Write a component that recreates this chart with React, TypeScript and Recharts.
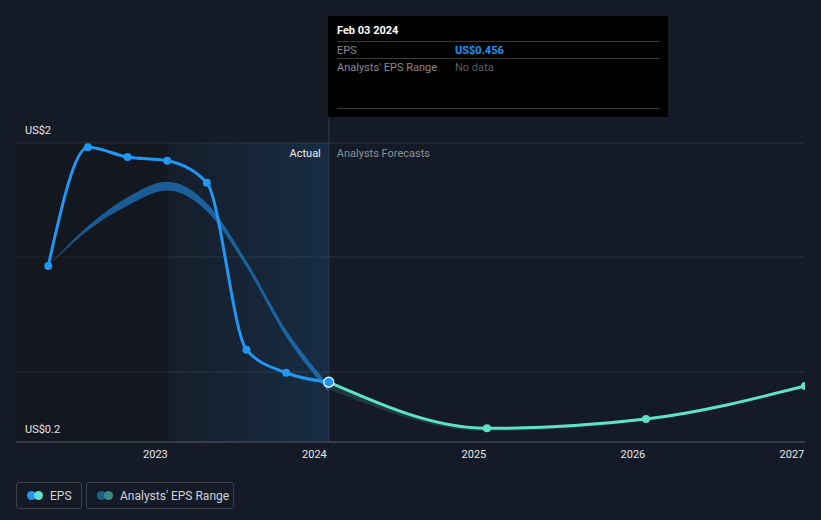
import React from 'react';
import {
  ComposedChart,
  Line,
  Area,
  XAxis,
  YAxis,
  CartesianGrid,
  ReferenceArea,
  ReferenceLine,
} from 'recharts';

// trailing EPS, quarterly (fiscal quarter ends)
const actualDates = ['2022-04-30', '2022-07-30', '2022-10-29', '2023-01-28', '2023-04-29', '2023-07-29', '2023-10-28', '2024-02-03'];
const actualEps = [1.206, 1.972, 1.91, 1.886, 1.744, 0.666, 0.517, 0.456];
const rangeLow = [1.206, 1.435, 1.595, 1.693, 1.56, 1.2, 0.75, 0.392];
const rangeHigh = [1.206, 1.462, 1.65, 1.75, 1.612, 1.238, 0.795, 0.44];

// analyst forecasts
const forecastDates = ['2024-02-03', '2025-01-31', '2026-01-31', '2027-01-31'];
const forecastEps = [0.456, 0.158, 0.218, 0.431];
const forecastLow = [0.41, 0.14, 0.21, 0.425];
const forecastHigh = [0.456, 0.158, 0.218, 0.431];

const yearTicks = ['2023-01-01', '2024-01-01', '2025-01-01', '2026-01-01', '2027-01-01'];
const yTicks = [0.07, 0.522, 1.264, 2];
const yTickLabels = ['US$0.2', '', '', 'US$2'];

const xStart = '2022-02-15';
const xEnd = '2027-01-31';
const lastTwelveStart = '2023-01-28';
const cursorTop = 2.168;

const BLUE = '#2196f3';
const TEAL = '#5fe1c7';
const BG = '#151b26';

const toT = (d: string) => Date.parse(d + 'T00:00:00Z');

const rows = new Map<number, any>();
const rowFor = (d: string) => {
  const t = toT(d);
  if (!rows.has(t)) rows.set(t, { t });
  return rows.get(t);
};
actualDates.forEach((d, i) => {
  const r = rowFor(d);
  r.eps = actualEps[i];
  r.range = [rangeLow[i], rangeHigh[i]];
});
forecastDates.forEach((d, i) => {
  const r = rowFor(d);
  r.forecast = forecastEps[i];
  r.fRange = [forecastLow[i], forecastHigh[i]];
});
const data = [...rows.values()].sort((a, b) => a.t - b.t);

const lastActualT = toT(actualDates[actualDates.length - 1]);
const firstForecastT = toT(forecastDates[0]);

const EpsDot = (props: any) => {
  const { cx, cy, payload, index } = props;
  if (cx == null || cy == null || payload.eps == null) return <g key={'e' + index} />;
  if (payload.t === lastActualT) {
    return <circle key={'e' + index} cx={cx} cy={cy} r={5} fill={BLUE} stroke="#fff" strokeWidth={1.2} />;
  }
  return <circle key={'e' + index} cx={cx} cy={cy} r={4} fill={BLUE} />;
};

const ForecastDot = (props: any) => {
  const { cx, cy, payload, index } = props;
  if (cx == null || cy == null || payload.forecast == null || payload.t === firstForecastT) {
    return <g key={'f' + index} />;
  }
  return <circle key={'f' + index} cx={cx} cy={cy} r={4} fill={TEAL} />;
};

const YTick = (props: any) => {
  const { x, y, payload } = props;
  const i = yTicks.indexOf(payload.value);
  const label = yTickLabels[i] || '';
  if (!label) return <g />;
  return (
    <text x={x} y={y - 12} fill="#e6e6e6" fontSize={11} textAnchor="start" dominantBaseline="middle">
      {label}
    </text>
  );
};

const SplitLabel = (props: any) => {
  const vb = props.viewBox || {};
  const x = vb.x ?? 0;
  const y = (vb.y ?? 0) + 11;
  return (
    <g fontSize={11}>
      <text x={x - 8} y={y} textAnchor="end" fill="#f0f0f0" dominantBaseline="middle">
        Actual
      </text>
      <text x={x + 8} y={y} textAnchor="start" fill="#8a9099" dominantBaseline="middle">
        Analysts Forecasts
      </text>
    </g>
  );
};

const LegendItem = ({ colors, label, width }: { colors: string[]; label: string; width: number }) => (
  <div
    style={{
      height: 27,
      width,
      boxSizing: 'border-box',
      border: '1px solid #3b4049',
      borderRadius: 3,
      display: 'flex',
      alignItems: 'center',
      paddingLeft: 10,
      marginRight: 4,
    }}
  >
    <span style={{ position: 'relative', width: 16, height: 9, marginRight: 7 }}>
      <span style={{ position: 'absolute', left: 0, top: 0, width: 9, height: 9, borderRadius: 5, background: colors[0] }} />
      <span style={{ position: 'absolute', left: 7, top: 0, width: 9, height: 9, borderRadius: 5, background: colors[1] }} />
    </span>
    <span style={{ color: '#cfd3d8', fontSize: 12 }}>{label}</span>
  </div>
);

export default function App() {
  return (
    <div
      style={{
        position: 'relative',
        width: 821,
        height: 520,
        background: BG,
        fontFamily: 'Roboto, "Noto Sans", sans-serif',
        overflow: 'hidden',
      }}
    >
      <style>{`body{margin:0}`}</style>
      <ComposedChart
        width={821}
        height={520}
        data={data}
        margin={{ top: 143, right: 16, left: 16, bottom: 48 }}
        style={{ fontFamily: 'Roboto, "Noto Sans", sans-serif' }}
      >
        <defs>
          <linearGradient id="hl" x1="0" y1="0" x2="1" y2="0">
            <stop offset="0%" stopColor={BLUE} stopOpacity={0.02} />
            <stop offset="100%" stopColor={BLUE} stopOpacity={0.14} />
          </linearGradient>
        </defs>
        <ReferenceArea x1={toT(xStart)} x2={toT(lastTwelveStart)} fill="#0c0f14" fillOpacity={0.3} stroke="none" ifOverflow="hidden" />
        <ReferenceArea x1={toT(lastTwelveStart)} x2={lastActualT} fill="url(#hl)" fillOpacity={1} stroke="none" />
        <CartesianGrid vertical={false} stroke="#2c313b" strokeWidth={1} />
        <XAxis
          dataKey="t"
          type="number"
          domain={[toT(xStart), toT(xEnd)]}
          ticks={yearTicks.map(toT)}
          tickFormatter={(v: number) => String(new Date(v).getUTCFullYear())}
          axisLine={{ stroke: '#4a4f58' }}
          tickLine={false}
          tick={{ fill: '#e6e6e6', fontSize: 11 }}
          height={30}
          allowDataOverflow
        />
        <YAxis
          type="number"
          domain={[yTicks[0], yTicks[yTicks.length - 1]]}
          ticks={yTicks}
          interval={0}
          mirror
          width={60}
          axisLine={false}
          tickLine={false}
          tickSize={0}
          tickMargin={9}
          tick={<YTick />}
          allowDataOverflow
        />
        <Area
          dataKey="range"
          type="monotone"
          fill={BLUE}
          fillOpacity={0.55}
          stroke="none"
          connectNulls
          isAnimationActive={false}
        />
        <Area
          dataKey="fRange"
          type="monotone"
          fill={TEAL}
          fillOpacity={0.15}
          stroke="none"
          connectNulls
          isAnimationActive={false}
        />
        <ReferenceLine
          segment={[
            { x: lastActualT, y: yTicks[0] },
            { x: lastActualT, y: cursorTop },
          ]}
          stroke="#2a3b50"
          strokeWidth={1}
          ifOverflow="visible"
        />
        <ReferenceLine x={lastActualT} stroke="none" label={<SplitLabel />} />
        <Line
          dataKey="forecast"
          type="monotone"
          stroke={TEAL}
          strokeWidth={3}
          dot={<ForecastDot />}
          activeDot={false}
          connectNulls
          isAnimationActive={false}
        />
        <Line
          dataKey="eps"
          type="monotone"
          stroke={BLUE}
          strokeWidth={3}
          dot={<EpsDot />}
          activeDot={false}
          connectNulls
          isAnimationActive={false}
        />
      </ComposedChart>

      <div
        style={{
          position: 'absolute',
          left: 328,
          top: 16,
          width: 340,
          height: 101,
          background: '#000',
          boxSizing: 'border-box',
          padding: '0 8px 0 9px',
          fontSize: 11,
        }}
      >
        <div style={{ color: '#fff', fontWeight: 700, height: 25, lineHeight: '30px' }}>Feb 03 2024</div>
        <div style={{ borderTop: '1px solid #3a3a3a', height: 16, display: 'flex', alignItems: 'center' }}>
          <span style={{ color: '#8a8a8a', width: 118 }}>EPS</span>
          <span style={{ color: BLUE, fontWeight: 700 }}>US$0.456</span>
        </div>
        <div style={{ borderTop: '1px solid #3a3a3a', height: 16, display: 'flex', alignItems: 'center' }}>
          <span style={{ color: '#8a8a8a', width: 118 }}>Analysts' EPS Range</span>
          <span style={{ color: '#5e5e5e' }}>No data</span>
        </div>
        <div style={{ borderTop: '1px solid #3a3a3a', position: 'absolute', left: 9, right: 8, top: 92 }} />
      </div>

      <div style={{ position: 'absolute', left: 16, top: 482, display: 'flex' }}>
        <LegendItem colors={[BLUE, TEAL]} label="EPS" width={66} />
        <LegendItem colors={['#1d5e8f', '#3a8a80']} label="Analysts' EPS Range" width={148} />
      </div>
    </div>
  );
}
